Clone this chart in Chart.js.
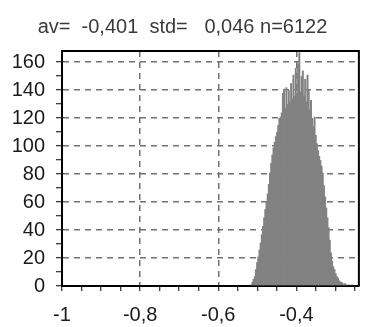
<!DOCTYPE html>
<html lang="en">
<head>
    <meta charset="UTF-8">
    <title>Histogram</title>
    <script src="https://cdn.jsdelivr.net/npm/chart.js"></script>
    <style>
        html, body { margin: 0; padding: 0; background: #fff; }
        #wrap { width: 367px; height: 327px; }
    </style>
</head>
<body>
<div id="wrap"><canvas id="hist"></canvas></div>
<script>
    // histogram bins (left edge of first bin, bin width)
    const binStart = -0.52;
    const binWidth = 0.003;
    // counts per bin
    const counts = [
        0, 1, 3, 5, 7, 12, 17, 21, 26, 31,
        37, 43, 49, 55, 60, 66, 73, 81, 88, 94,
        99, 103, 107, 110, 115, 120, 121, 124, 138, 141,
        127, 142, 130, 140, 132, 145, 134, 151, 136, 156,
        138, 159, 167, 139, 150, 154, 136, 148, 132, 151,
        140, 126, 133, 120, 114, 121, 108, 102, 97, 93,
        90, 86, 81, 72, 64, 56, 49, 42, 33, 24,
        18, 14, 12, 9, 7, 6, 4, 3, 3, 2,
        1, 2, 1, 1, 0, 1, 0, 1
    ];
    const titleText = 'av=  -0,401  std=   0,046 n=6122';
    const xTicks = [-1, -0.8, -0.6, -0.4];
    const yTicks = [0, 20, 40, 60, 80, 100, 120, 140, 160];

    const points = counts.map((c, i) => ({x: binStart + (i + 0.5) * binWidth, y: c}));

    const isMajor = (v, step) => Math.abs(v / step - Math.round(v / step)) < 1e-6;
    const fmt = v => String(Math.round(v * 10) / 10).replace('.', ',');
    const font = {family: 'Liberation Sans, Arial, sans-serif', size: 20};

    const frame = {
        id: 'frame',
        afterDraw(chart) {
            const {ctx, chartArea: a} = chart;
            ctx.save();
            ctx.strokeStyle = '#000';
            ctx.lineWidth = 2;
            ctx.beginPath();
            ctx.moveTo(a.left, a.top);
            ctx.lineTo(a.right, a.top);
            ctx.lineTo(a.right, a.bottom);
            ctx.stroke();
            ctx.restore();
        }
    };

    const ctx = document.getElementById('hist').getContext('2d');
    new Chart(ctx, {
        type: 'bar',
        data: {
            datasets: [{
                data: points,
                backgroundColor: '#828282',
                borderWidth: 0,
                barThickness: 2,
                grouped: false,
                inflateAmount: 0
            }]
        },
        options: {
            responsive: true,
            maintainAspectRatio: false,
            animation: false,
            layout: {padding: {right: 2, top: 0, left: 0, bottom: 0}},
            plugins: {
                legend: {display: false},
                tooltip: {enabled: false},
                title: {
                    display: true,
                    text: titleText,
                    color: '#3a3a3a',
                    font: {family: font.family, size: 20, weight: 'normal'},
                    padding: {top: 15, bottom: 12}
                }
            },
            scales: {
                x: {
                    type: 'linear',
                    min: -1,
                    max: -0.24,
                    offset: false,
                    afterFit(s) { s.height = 41; },
                    ticks: {
                        stepSize: 0.05,
                        includeBounds: false,
                        autoSkip: false,
                        maxRotation: 0,
                        padding: 12,
                        color: '#1a1a1a',
                        font: font,
                        callback: v => (isMajor(v, 0.2) && xTicks.some(t => Math.abs(t - v) < 1e-6)) ? fmt(v) : ''
                    },
                    grid: {
                        offset: false,
                        color: c => (c.tick && isMajor(c.tick.value, 0.2) && c.tick.value > -0.99) ? '#707070' : 'rgba(0,0,0,0)',
                        lineWidth: 1.5,
                        tickColor: '#000',
                        tickWidth: 1,
                        tickLength: 5
                    },
                    border: {color: '#000', width: 2, dash: [6, 5]}
                },
                y: {
                    min: 0,
                    max: 168,
                    afterFit(s) { s.width = 62; },
                    ticks: {
                        stepSize: 10,
                        includeBounds: false,
                        autoSkip: false,
                        padding: 11,
                        color: '#1a1a1a',
                        font: font,
                        callback: v => yTicks.includes(v) ? String(v) : ''
                    },
                    grid: {
                        color: c => (c.tick && isMajor(c.tick.value, 20) && c.tick.value > 0) ? '#707070' : 'rgba(0,0,0,0)',
                        lineWidth: 1.5,
                        tickColor: '#000',
                        tickWidth: 1,
                        tickLength: 6
                    },
                    border: {color: '#000', width: 2, dash: [6, 5]}
                }
            }
        },
        plugins: [frame]
    });
</script>
</body>
</html>
